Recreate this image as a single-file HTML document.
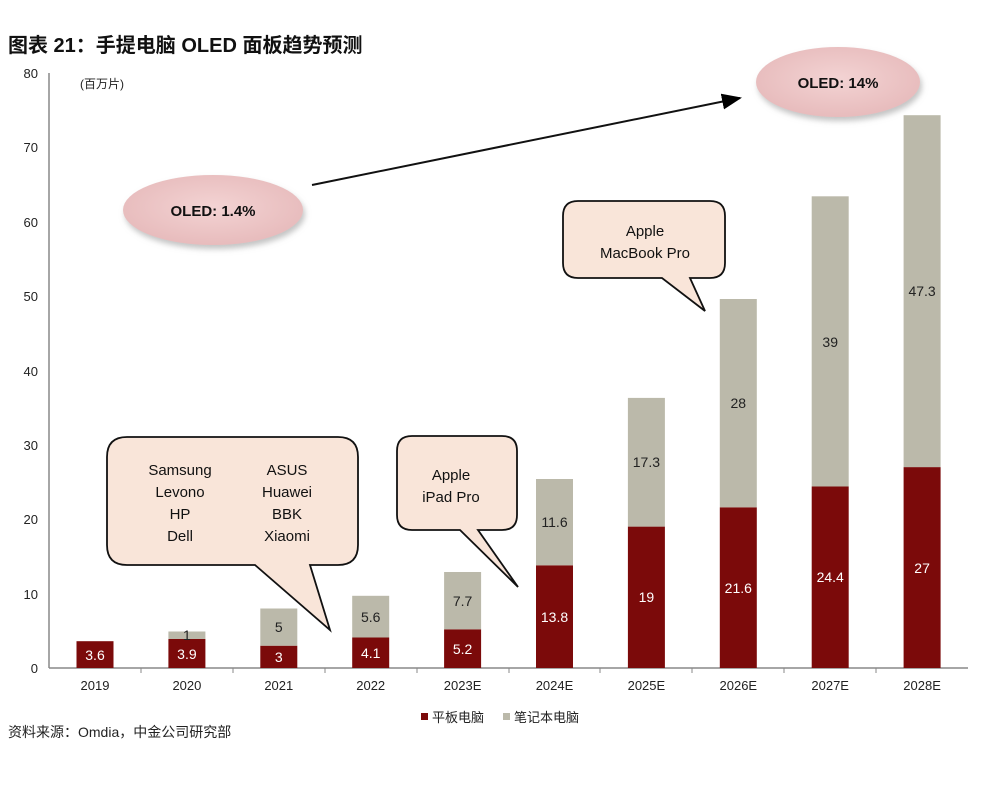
<!DOCTYPE html>
<html><head><meta charset="utf-8"><style>
body{margin:0;background:#fff;}
svg text{font-family:"Liberation Sans","Noto Sans CJK SC",sans-serif;}
</style></head><body>
<svg width="982" height="784" viewBox="0 0 982 784" xmlns="http://www.w3.org/2000/svg">
<defs>
<radialGradient id="eg" cx="50%" cy="45%" r="60%"><stop offset="0" stop-color="#f3d3d3"/><stop offset="1" stop-color="#e6b9ba"/></radialGradient>
<filter id="sh" x="-20%" y="-20%" width="140%" height="150%"><feDropShadow dx="2" dy="4" stdDeviation="3" flood-color="#888" flood-opacity="0.5"/></filter>
<marker id="ar" markerWidth="10" markerHeight="8" refX="9" refY="4" orient="auto"><path d="M0,0 L10,4 L0,8 z" fill="#000"/></marker>
</defs>
<text x="8" y="52" font-size="20" font-weight="bold" fill="#111">图表 21：手提电脑  OLED 面板趋势预测</text>
<g font-size="13" fill="#222" text-anchor="end">
<text x="38" y="78">80</text><text x="38" y="152">70</text><text x="38" y="227">60</text><text x="38" y="301">50</text>
<text x="38" y="376">40</text><text x="38" y="450">30</text><text x="38" y="524">20</text><text x="38" y="599">10</text><text x="38" y="673">0</text>
</g>
<text x="80" y="88" font-size="12" fill="#222">(百万片)</text>
<line x1="49" y1="73" x2="49" y2="668" stroke="#888" stroke-width="1.5"/>
<line x1="49" y1="668" x2="968" y2="668" stroke="#888" stroke-width="1.5"/>
<g fill="#7b0a0a">
<rect x="76.5" y="641.2" width="37" height="26.8"/>
<rect x="168.4" y="639" width="37" height="29"/>
<rect x="260.3" y="645.7" width="37" height="22.3"/>
<rect x="352.2" y="637.5" width="37" height="30.5"/>
<rect x="444.1" y="629.3" width="37" height="38.7"/>
<rect x="536" y="565.3" width="37" height="102.7"/>
<rect x="627.9" y="526.6" width="37" height="141.4"/>
<rect x="719.8" y="507.3" width="37" height="160.7"/>
<rect x="811.7" y="486.5" width="37" height="181.5"/>
<rect x="903.6" y="467.1" width="37" height="200.9"/>
</g>
<g fill="#bbb9aa">
<rect x="168.4" y="631.5" width="37" height="7.5"/>
<rect x="260.3" y="608.5" width="37" height="37.2"/>
<rect x="352.2" y="595.8" width="37" height="41.7"/>
<rect x="444.1" y="572" width="37" height="57.3"/>
<rect x="536" y="479" width="37" height="86.3"/>
<rect x="627.9" y="397.9" width="37" height="128.7"/>
<rect x="719.8" y="299" width="37" height="208.3"/>
<rect x="811.7" y="196.3" width="37" height="290.2"/>
<rect x="903.6" y="115.2" width="37" height="351.9"/>
</g>
<g font-size="14" fill="#fff" text-anchor="middle">
<text x="95" y="660">3.6</text><text x="186.9" y="659">3.9</text><text x="278.8" y="662">3</text>
<text x="370.7" y="658">4.1</text><text x="462.6" y="654">5.2</text><text x="554.5" y="622">13.8</text>
<text x="646.4" y="602">19</text><text x="738.3" y="593">21.6</text><text x="830.2" y="582">24.4</text><text x="922.1" y="573">27</text>
</g>
<g font-size="14" fill="#222" text-anchor="middle">
<text x="186.9" y="640">1</text><text x="278.8" y="632">5</text><text x="370.7" y="622">5.6</text>
<text x="462.6" y="606">7.7</text><text x="554.5" y="527">11.6</text><text x="646.4" y="467">17.3</text>
<text x="738.3" y="408">28</text><text x="830.2" y="347">39</text><text x="922.1" y="296">47.3</text>
</g>
<g stroke="#888">
<line x1="141" y1="668" x2="141" y2="673"/><line x1="233" y1="668" x2="233" y2="673"/><line x1="325" y1="668" x2="325" y2="673"/>
<line x1="417" y1="668" x2="417" y2="673"/><line x1="509" y1="668" x2="509" y2="673"/><line x1="600" y1="668" x2="600" y2="673"/>
<line x1="692" y1="668" x2="692" y2="673"/><line x1="784" y1="668" x2="784" y2="673"/><line x1="876" y1="668" x2="876" y2="673"/>
</g>
<g font-size="13" fill="#222" text-anchor="middle">
<text x="95" y="690">2019</text><text x="186.9" y="690">2020</text><text x="278.8" y="690">2021</text><text x="370.7" y="690">2022</text>
<text x="462.6" y="690">2023E</text><text x="554.5" y="690">2024E</text><text x="646.4" y="690">2025E</text><text x="738.3" y="690">2026E</text>
<text x="830.2" y="690">2027E</text><text x="922.1" y="690">2028E</text>
</g>
<g stroke="#111" stroke-width="1.8" fill="#f9e5d9">
<path d="M127,437 H338 Q358,437 358,457 V545 Q358,565 338,565 H310 L330,630 L255,565 H127 Q107,565 107,545 V457 Q107,437 127,437 Z"/>
<path d="M412,436 H502 Q517,436 517,451 V515 Q517,530 502,530 H478 L518,587 L460,530 H412 Q397,530 397,515 V451 Q397,436 412,436 Z"/>
<path d="M578,201 H710 Q725,201 725,216 V263 Q725,278 710,278 H690 L705,311 L662,278 H578 Q563,278 563,263 V216 Q563,201 578,201 Z"/>
</g>
<g font-size="15" fill="#111" text-anchor="middle">
<text x="180" y="475">Samsung</text><text x="180" y="497">Levono</text><text x="180" y="519">HP</text><text x="180" y="541">Dell</text>
<text x="287" y="475">ASUS</text><text x="287" y="497">Huawei</text><text x="287" y="519">BBK</text><text x="287" y="541">Xiaomi</text>
<text x="451" y="480">Apple</text><text x="451" y="502">iPad Pro</text>
<text x="645" y="236">Apple</text><text x="645" y="258">MacBook Pro</text>
</g>
<ellipse cx="213" cy="210" rx="90" ry="35" fill="url(#eg)" filter="url(#sh)"/>
<ellipse cx="838" cy="82" rx="82" ry="35" fill="url(#eg)" filter="url(#sh)"/>
<text x="213" y="216" font-size="15" font-weight="bold" fill="#111" text-anchor="middle">OLED:  1.4%</text>
<text x="838" y="88" font-size="15" font-weight="bold" fill="#111" text-anchor="middle">OLED:  14%</text>
<line x1="312" y1="185" x2="740" y2="98" stroke="#111" stroke-width="2" marker-end="url(#ar)"/>
<rect x="421" y="713" width="7" height="7" fill="#7b0a0a"/>
<text x="432" y="722" font-size="13" fill="#222">平板电脑</text>
<rect x="503" y="713" width="7" height="7" fill="#bbb9aa"/>
<text x="514" y="722" font-size="13" fill="#222">笔记本电脑</text>
<text x="8" y="737" font-size="14" fill="#222">资料来源：Omdia，中金公司研究部</text>
</svg>
</body></html>
